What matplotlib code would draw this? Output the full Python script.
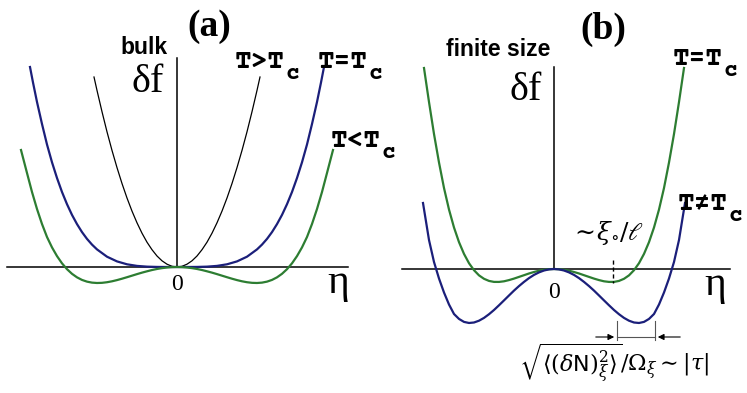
import matplotlib
matplotlib.use("Agg")
import matplotlib.pyplot as plt

# Landau free energy sketches, delta f versus order parameter eta
# (arbitrary units, 1 unit = 100 px on the final figure).
# Curves are symmetric, so only the eta >= 0 half is listed.

# (a) bulk
eta_hot = [0.0, 0.05, 0.1, 0.15, 0.2, 0.25, 0.3, 0.35, 0.4, 0.45, 0.5, 0.55, 0.6,
           0.65, 0.7, 0.75, 0.8, 0.83]
f_hot = [0.0, 0.007, 0.028, 0.062, 0.110, 0.173, 0.248, 0.338, 0.442, 0.559, 0.690, 0.835, 0.994,
         1.166, 1.352, 1.553, 1.766, 1.90]

eta_crit = [0.0, 0.1, 0.2, 0.3, 0.4, 0.5, 0.6, 0.7, 0.8, 0.85, 0.9, 0.95, 1.0, 1.05, 1.1,
            1.15, 1.2, 1.25, 1.3, 1.35, 1.4, 1.44, 1.47]
f_crit = [0.0, 0.00004, 0.0007, 0.0035, 0.011, 0.027, 0.056, 0.103, 0.176, 0.224, 0.281, 0.349, 0.429, 0.521, 0.628,
          0.750, 0.890, 1.047, 1.225, 1.43, 1.65, 1.845, 2.0]

eta_cold = [0.0, 0.05, 0.1, 0.15, 0.2, 0.25, 0.3, 0.35, 0.4, 0.45, 0.5, 0.55, 0.6, 0.65, 0.7, 0.75, 0.8,
            0.85, 0.9, 0.95, 1.0, 1.05, 1.1, 1.15, 1.2, 1.25, 1.3, 1.35, 1.4, 1.45, 1.5, 1.56]
f_cold = [0.0, -0.0013, -0.0051, -0.0113, -0.0198, -0.0303, -0.043, -0.0564, -0.0712, -0.0867, -0.1021, -0.1171,
          -0.131, -0.143, -0.1523, -0.1583, -0.1599, -0.1563, -0.1464, -0.1292, -0.1034, -0.0681, -0.0218,
          0.0367, 0.109, 0.196, 0.30, 0.43, 0.58, 0.75, 0.94, 1.17]

# (b) finite size
eta_fs_crit = [0.0, 0.05, 0.1, 0.15, 0.2, 0.25, 0.3, 0.35, 0.4, 0.45, 0.5, 0.55, 0.6, 0.65, 0.7,
               0.75, 0.8, 0.85, 0.9, 0.95, 1.0, 1.05, 1.1, 1.15, 1.2, 1.25, 1.3]
f_fs_crit = [0.0, -0.002, -0.008, -0.0172, -0.030, -0.0448, -0.062, -0.079, -0.096, -0.1109, -0.123, -0.1292,
             -0.129, -0.1192, -0.098, -0.0636, -0.012, 0.058, 0.151, 0.2686, 0.415, 0.5945, 0.81, 1.065,
             1.35, 1.67, 2.01]

eta_fs_off = [0.0, 0.05, 0.1, 0.15, 0.2, 0.25, 0.3, 0.35, 0.4, 0.45, 0.5, 0.55, 0.6, 0.65, 0.7, 0.75,
              0.8, 0.85, 0.9, 0.95, 1.0, 1.05, 1.1, 1.15, 1.2, 1.25, 1.31]
f_fs_off = [0.0, -0.0038, -0.015, -0.0338, -0.059, -0.0911, -0.129, -0.1707, -0.216, -0.2647, -0.314, -0.3628,
            -0.410, -0.4522, -0.489, -0.5171, -0.535, -0.5398, -0.529, -0.4993, -0.45, -0.355, -0.235, -0.095,
            0.07, 0.29, 0.66]

xi_mark = 0.59                    # ~xi_0 / l, position of the shifted minimum
width_lo, width_hi = 0.63, 1.01   # fluctuation width of the T != Tc well

GREEN = "#2d7d32"
BLUE = "#1b1f7a"
SERIF = ["Liberation Serif", "DejaVu Serif"]
SANS = ["Liberation Sans", "DejaVu Sans"]
MONO = ["Courier Prime", "Liberation Mono", "DejaVu Sans Mono"]


def both_sides(eta, f):
    xs = [-e for e in eta[:0:-1]] + list(eta)
    ys = list(f[:0:-1]) + list(f)
    return xs, ys


def tlabel(ax, x, y, s, size=20):
    # temperature label, the c of T_c hangs below the baseline
    kw = dict(family=MONO, weight="bold", va="bottom", ha="left")
    t = ax.text(x, y, s, fontsize=size, **kw)
    ax.annotate("c", xy=(1, 0), xycoords=t, xytext=(0.5, -8), textcoords="offset points",
                fontsize=size - 3, **kw)


fig = plt.figure(figsize=(7.47, 3.93), dpi=100)
ax_a = fig.add_axes([0, 0, 374 / 747, 1])
ax_b = fig.add_axes([374 / 747, 0, 373 / 747, 1])
ax_a.set_xlim(-1.77, 1.97)
ax_a.set_ylim(-1.26, 2.67)
ax_b.set_xlim(-1.80, 1.93)
ax_b.set_ylim(-1.24, 2.69)
for ax in (ax_a, ax_b):
    ax.axis("off")

# ---- (a) bulk ----
ax_a.plot([-1.70, 1.71], [0, 0], color="k", lw=1.1)
ax_a.plot([0, 0], [0, 2.09], color="k", lw=1.1)
ax_a.plot(*both_sides(eta_hot, f_hot), color="k", lw=0.9)
ax_a.plot(*both_sides(eta_crit, f_crit), color=BLUE, lw=1.6)
ax_a.plot(*both_sides(eta_cold, f_cold), color=GREEN, lw=1.6)

ax_a.text(0.32, 2.40, "(a)", family=SERIF, weight="bold", fontsize=27, ha="center", va="center")
ax_a.text(-0.09, 2.19, "bulk", family=SANS, weight="bold", fontsize=16.5, ha="right", va="center")
ax_a.text(-0.13, 1.84, "δf", family=SERIF, fontsize=29, ha="right", va="center")
ax_a.text(0, -0.17, "0", family=SERIF, fontsize=17, ha="center", va="center")
ax_a.text(1.61, -0.16, "η", family=SERIF, fontsize=30, ha="center", va="center")
tlabel(ax_a, 0.58, 1.94, "T>T")
tlabel(ax_a, 1.41, 1.94, "T=T")
tlabel(ax_a, 1.54, 1.15, "T<T")

# ---- (b) finite size ----
ax_b.plot([-1.52, 1.76], [0, 0], color="k", lw=1.1)
ax_b.plot([0, 0], [0, 2.02], color="k", lw=1.1)
ax_b.plot(*both_sides(eta_fs_crit, f_fs_crit), color=GREEN, lw=1.6)
ax_b.plot(*both_sides(eta_fs_off, f_fs_off), color=BLUE, lw=1.6)

ax_b.text(0.49, 2.40, "(b)", family=SERIF, weight="bold", fontsize=27, ha="center", va="center")
ax_b.text(-0.04, 2.19, "finite size", family=SANS, weight="bold", fontsize=16.5, ha="right", va="center")
ax_b.text(-0.12, 1.79, "δf", family=SERIF, fontsize=29, ha="right", va="center")
ax_b.text(0, -0.23, "0", family=SERIF, fontsize=17, ha="center", va="center")
ax_b.text(1.61, -0.16, "η", family=SERIF, fontsize=30, ha="center", va="center")
tlabel(ax_b, 1.19, 1.99, "T=T")
tlabel(ax_b, 1.24, 0.54, "T≠T")

# position of the minimum
ax_b.plot([xi_mark, xi_mark], [0.09, -0.14], color="k", lw=1.0, ls=(0, (3, 2)))
ax_b.text(0.53, 0.36, r"$\sim\!\xi_{\circ}/\ell$", fontsize=18, ha="center", va="center",
          math_fontfamily="dejavuserif")

# width of the well
for xw in (width_lo, width_hi):
    ax_b.plot([xw, xw], [-0.52, -0.71], color="#555555", lw=0.8)
ax_b.plot([width_lo, width_hi], [-0.68, -0.68], color="#555555", lw=0.8)
ax_b.annotate("", xy=(width_lo, -0.68), xytext=(width_lo - 0.24, -0.68),
              arrowprops=dict(arrowstyle="-|>", color="k", lw=0.8, mutation_scale=9))
ax_b.annotate("", xy=(width_hi, -0.68), xytext=(width_hi + 0.28, -0.68),
              arrowprops=dict(arrowstyle="-|>", color="k", lw=0.8, mutation_scale=9))
ax_b.text(0.60, -0.94,
          r"$\sqrt{\langle(\delta \mathsf{N})^2_\xi\rangle}/\Omega_\xi \sim |\tau|$",
          fontsize=16, ha="center", va="center", math_fontfamily="dejavuserif")

fig.savefig("out.png", dpi=100)
